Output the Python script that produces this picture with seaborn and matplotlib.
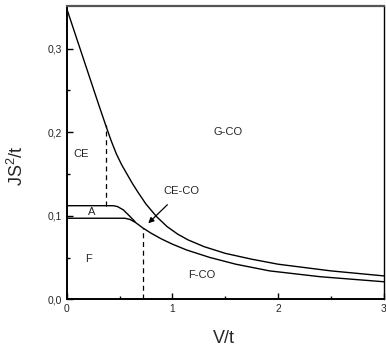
import numpy as np
import pandas as pd
import matplotlib
matplotlib.use("Agg")
import matplotlib.pyplot as plt
import seaborn as sns

# boundary between CE and G-CO (upper curve)
v_upper = [0, 0.1, 0.2, 0.3, 0.37, 0.42, 0.47, 0.52, 0.57, 0.62, 0.67, 0.75, 0.85,
           0.95, 1.05, 1.15, 1.3, 1.5, 1.75, 2.0, 2.5, 3.0]
js_upper = [0.348, 0.310, 0.272, 0.234, 0.208, 0.190, 0.174, 0.161, 0.150, 0.139,
            0.129, 0.114, 0.099, 0.087, 0.078, 0.071, 0.063, 0.055, 0.048, 0.042,
            0.034, 0.028]

# boundary between F and F-CO (lower curve)
v_lower = [0, 0.55, 0.6, 0.65, 0.725, 0.8, 0.9, 1.0, 1.135, 1.356, 1.6, 1.92, 2.4, 3.0]
js_lower = [0.097, 0.097, 0.0955, 0.092, 0.085, 0.079, 0.072, 0.066, 0.059, 0.050,
            0.042, 0.034, 0.027, 0.021]

# top of the thin A region
v_a = [0, 0.44, 0.48, 0.536, 0.6, 0.646]
js_a = [0.112, 0.112, 0.111, 0.107, 0.099, 0.093]

# dashed verticals (x, y bottom, y top)
dash_x = [0.37, 0.725]
dash_y0 = [0.112, 0.0]
dash_y1 = [0.208, 0.085]

# region labels
region_names = ["CE", "G-CO", "A", "F", "F-CO"]
region_x = [0.14, 1.53, 0.236, 0.21, 1.28]
region_y = [0.174, 0.200, 0.1045, 0.048, 0.029]

x_ticks = [0, 1, 2, 3]
x_ticklabels = ["0", "1", "2", "3"]
y_ticks = [0.0, 0.1, 0.2, 0.3]
y_ticklabels = ["0,0", "0,1", "0,2", "0,3"]

sns.set_style("ticks")
plt.rcParams['font.family'] = ['Liberation Sans', 'DejaVu Sans']
plt.rcParams['mathtext.default'] = 'regular'

fig = plt.figure(figsize=(3.86, 3.47), dpi=100)
ax = fig.add_axes([0.1728, 0.1375, 0.8212, 0.8452])

for vx, vy in [(v_upper, js_upper), (v_lower, js_lower), (v_a, js_a)]:
    df = pd.DataFrame({"V": vx, "JS": vy})
    sns.lineplot(data=df, x="V", y="JS", ax=ax, color="black", lw=1.0,
                 estimator=None, sort=False)

for x, y0, y1 in zip(dash_x, dash_y0, dash_y1):
    ax.plot([x, x], [y0, y1], color="black", lw=0.9, ls=(0, (4, 3)))

for name, x, y in zip(region_names, region_x, region_y):
    ax.text(x, y, name, fontsize=8, ha="center", va="center")

ax.annotate("CE-CO", xy=(0.772, 0.091), xytext=(1.09, 0.130), fontsize=8,
            ha="center", va="center",
            arrowprops=dict(arrowstyle="-|>", color="black", lw=0.9,
                            shrinkA=6, shrinkB=0, mutation_scale=8))

ax.set_xlim(0, 3)
ax.set_ylim(0, 0.351)
ax.set_xticks(x_ticks)
ax.set_xticklabels(x_ticklabels)
ax.set_yticks(y_ticks)
ax.set_yticklabels(y_ticklabels)
ax.set_xticks([0.5, 1.5, 2.5], minor=True)
ax.set_yticks([0.05, 0.15, 0.25], minor=True)
ax.tick_params(which="both", direction="in", labelsize=7.4, color="black", width=1.0)
ax.tick_params(which="major", length=4)
ax.tick_params(which="minor", length=2.5)

for s in ax.spines.values():
    s.set_visible(True)
    s.set_color("black")
    s.set_linewidth(1.0)
ax.spines["top"].set_color("#555555")
ax.spines["top"].set_linewidth(1.6)
ax.spines["left"].set_linewidth(1.4)
ax.spines["bottom"].set_linewidth(1.4)

ax.set_xlabel("V/t", fontsize=13)
ax.set_ylabel("JS$^2$/t", fontsize=13)
ax.xaxis.set_label_coords(0.496, -0.105)
ax.yaxis.set_label_coords(-0.125, 0.455)

fig.savefig("out.png", dpi=100)
